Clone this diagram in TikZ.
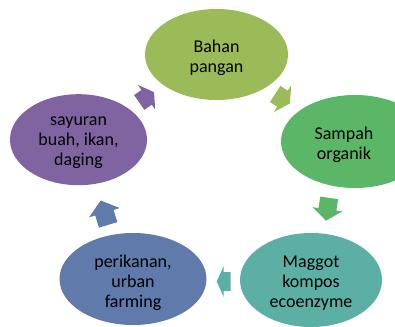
\documentclass[tikz,border=0pt]{standalone}
\usepackage{fontspec}
\setmainfont{Carlito}
\usetikzlibrary{shapes.geometric}
\definecolor{cTop}{HTML}{9BBB59}
\definecolor{cRight}{HTML}{5CB668}
\definecolor{cTeal}{HTML}{5BAFA5}
\definecolor{cBlue}{HTML}{5F7AAB}
\definecolor{cPurple}{HTML}{8064A2}
\newcommand\cycarrow[6]{%
  \fill[#6,shift={(#1,#2)},rotate=#3]
    ({-#4/2},{-0.3*#5}) -- (0,{-0.3*#5}) -- (0,{-0.5*#5}) -- ({#4/2},0)
    -- (0,{0.5*#5}) -- (0,{0.3*#5}) -- ({-#4/2},{0.3*#5}) -- cycle;}
\tikzset{
  blob/.style={ellipse, draw=none, inner sep=0pt},
  lbl/.style={align=center, font=\fontsize{18pt}{20pt}\selectfont, text=black, inner sep=0pt},
}
\begin{document}
\begin{tikzpicture}[x=1pt,y=1pt]
\clip (0,0) rectangle (395,326);
\node[blob, fill=cTop, minimum width=143pt, minimum height=91pt] (top) at (216.5,271.5) {};
\node[blob, fill=cRight, minimum width=148pt, minimum height=93pt] (right) at (355,184.5) {};
\node[blob, fill=cTeal, minimum width=142pt, minimum height=94pt] (br) at (311,46) {};
\node[blob, fill=cBlue, minimum width=147pt, minimum height=92pt] (bl) at (133,47) {};
\node[blob, fill=cPurple, minimum width=137pt, minimum height=91pt] (left) at (78.5,186.3) {};
\node[lbl] (ttop) at ([yshift=-3pt]top.center) {Bahan\\pangan};
\node[lbl] (tright) at ([xshift=-11pt,yshift=-3pt]right.center) {Sampah\\organik};
\node[lbl] (tbr) at ([yshift=-3pt]br.center) {Maggot\\kompos\\ecoenzyme};
\node[lbl] (tbl) at ([yshift=-4pt]bl.center) {perikanan,\\urban\\farming};
\node[lbl] (tleft) at ([yshift=-3pt]left.center) {sayuran\\buah, ikan,\\daging};
\cycarrow{282.5}{227.3}{-33}{17.5}{32}{cTop}
\cycarrow{327.5}{116.7}{-98}{23}{30}{cRight}
\cycarrow{223.7}{44.5}{180}{14}{31}{cTeal}
\cycarrow{104.4}{113.3}{107}{25.5}{32}{cBlue}
\cycarrow{146.6}{228.7}{35}{18}{30}{cPurple}
\end{tikzpicture}
\end{document}
